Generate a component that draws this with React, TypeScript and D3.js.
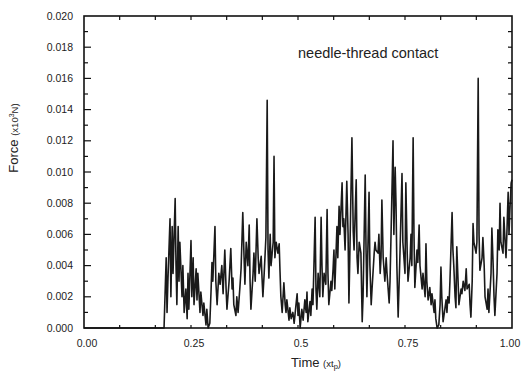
import React from "react";
import * as d3 from "d3";

const xTickValues = [0, 0.25, 0.5, 0.75, 1.0];
const xTickLabels = ["0.00", "0.25", "0.5", "0.75", "1.00"];
const yTickValues = [0, 0.002, 0.004, 0.006, 0.008, 0.01, 0.012, 0.014, 0.016, 0.018, 0.02];
const yTickLabels = ["0.000", "0.002", "0.004", "0.006", "0.008", "0.010", "0.012", "0.014", "0.016", "0.018", "0.020"];
const annotation = "needle-thread contact";

const time = [
  0, 0.187, 0.192, 0.194, 0.196, 0.201, 0.203, 0.206, 0.208, 0.213, 0.215, 0.217, 0.22, 0.222, 0.224,
  0.229, 0.231, 0.234, 0.238, 0.241, 0.243, 0.245, 0.25, 0.252, 0.255, 0.257, 0.262, 0.264, 0.266,
  0.271, 0.273, 0.278, 0.28, 0.285, 0.287, 0.29, 0.294, 0.297, 0.299, 0.301, 0.306, 0.308, 0.311,
  0.315, 0.318, 0.322, 0.325, 0.329, 0.332, 0.334, 0.339, 0.343, 0.346, 0.348, 0.35, 0.355, 0.357,
  0.36, 0.364, 0.367, 0.371, 0.374, 0.376, 0.379, 0.383, 0.386, 0.388, 0.39, 0.395, 0.397, 0.4,
  0.404, 0.407, 0.409, 0.414, 0.416, 0.418, 0.421, 0.425, 0.428, 0.43, 0.432, 0.435, 0.437, 0.442,
  0.444, 0.446, 0.449, 0.453, 0.456, 0.458, 0.46, 0.463, 0.467, 0.47, 0.472, 0.474, 0.479, 0.481,
  0.484, 0.488, 0.491, 0.495, 0.498, 0.5, 0.502, 0.505, 0.509, 0.512, 0.516, 0.519, 0.521, 0.523,
  0.528, 0.53, 0.533, 0.535, 0.54, 0.542, 0.544, 0.547, 0.551, 0.554, 0.556, 0.558, 0.561, 0.565,
  0.568, 0.57, 0.572, 0.577, 0.579, 0.582, 0.584, 0.586, 0.591, 0.593, 0.596, 0.598, 0.603, 0.605,
  0.607, 0.61, 0.614, 0.617, 0.619, 0.621, 0.626, 0.629, 0.631, 0.636, 0.638, 0.64, 0.643, 0.647,
  0.65, 0.652, 0.657, 0.659, 0.661, 0.666, 0.668, 0.671, 0.673, 0.678, 0.68, 0.682, 0.687, 0.689,
  0.692, 0.694, 0.696, 0.699, 0.703, 0.706, 0.708, 0.713, 0.715, 0.717, 0.722, 0.724, 0.727, 0.729,
  0.731, 0.734, 0.738, 0.743, 0.745, 0.75, 0.752, 0.755, 0.757, 0.762, 0.764, 0.766, 0.769, 0.771,
  0.773, 0.778, 0.78, 0.783, 0.785, 0.79, 0.792, 0.797, 0.799, 0.801, 0.804, 0.808, 0.811, 0.813,
  0.818, 0.82, 0.822, 0.825, 0.829, 0.832, 0.834, 0.836, 0.839, 0.843, 0.846, 0.848, 0.85, 0.853,
  0.855, 0.86, 0.862, 0.864, 0.867, 0.869, 0.871, 0.874, 0.876, 0.881, 0.883, 0.886, 0.89, 0.893,
  0.895, 0.9, 0.902, 0.904, 0.907, 0.909, 0.911, 0.916, 0.918, 0.921, 0.923, 0.925, 0.93, 0.932,
  0.935, 0.937, 0.942, 0.944, 0.946, 0.951, 0.953, 0.956, 0.958, 0.96, 0.965, 0.967, 0.97, 0.972,
  0.974, 0.979, 0.981, 0.984, 0.986, 0.988, 0.991, 0.993, 0.995, 0.998, 1.0,
];

const force = [
  0, 0, 4.5, 1.0, 3.0, 7.0, 2.0, 6.5, 3.5, 8.3, 4.0, 1.5, 6.5, 3.0, 5.5,
  2.0, 4.0, 1.0, 2.5, 0.6, 3.5, 1.2, 5.6, 2.0, 4.5, 1.5, 3.8, 1.8, 3.5,
  1.0, 2.3, 0.8, 1.6, 0.2, 1.2, 0.0, 0.3, 2.5, 4.2, 3.0, 6.5, 3.0, 1.5,
  3.5, 2.8, 4.0, 2.2, 5.0, 2.5, 1.2, 3.0, 5.1, 2.5, 3.2, 1.5, 0.8, 2.0,
  1.0, 2.5, 3.8, 7.4, 4.5, 2.8, 5.5, 4.0, 6.6, 3.0, 1.2, 3.5, 4.8, 3.0,
  7.0, 4.5, 3.5, 4.6, 3.2, 2.0, 3.5, 5.8, 14.6, 5.0, 3.2, 6.0, 4.0, 5.5,
  11.0, 4.5, 5.5, 4.8, 5.4, 3.6, 2.0, 1.0, 2.9, 1.5, 1.0, 1.8, 0.5, 1.3,
  0.6, 1.0, 0.3, 1.4, 2.2, 0.8, 1.6, 0.0, 1.2, 0.5, 1.8, 1.0, 2.3, 0.4,
  1.7, 0.8, 2.5, 1.5, 7.1, 2.5, 1.2, 3.5, 2.0, 7.1, 4.0, 2.0, 3.5, 2.8,
  7.6, 3.5, 1.5, 3.0, 2.4, 3.8, 5.0, 2.5, 6.5, 4.5, 7.8, 6.0, 9.3, 6.5,
  7.0, 5.0, 9.4, 6.0, 1.6, 4.5, 12.2, 6.2, 5.0, 9.5, 4.5, 3.5, 5.5, 4.8,
  0.4, 2.0, 9.8, 5.0, 2.0, 8.7, 4.0, 1.5, 2.5, 4.8, 5.5, 5.0, 4.8, 6.0,
  3.5, 4.5, 8.2, 4.5, 3.0, 4.5, 3.5, 1.6, 3.0, 5.5, 12.0, 6.0, 10.3, 8.0,
  4.0, 0.7, 4.5, 9.9, 5.5, 3.5, 9.3, 5.0, 3.0, 4.5, 6.0, 4.0, 12.2, 6.0,
  2.6, 5.0, 4.2, 6.6, 4.0, 2.5, 3.5, 2.0, 5.4, 3.0, 1.8, 2.6, 1.5, 2.2,
  1.0, 1.8, 0.6, 0.0, 0.2, 1.5, 3.9, 2.0, 0.4, 1.2, 1.8, 1.0, 2.0, 1.6,
  3.0, 7.4, 5.0, 4.0, 2.0, 1.3, 5.2, 3.0, 1.5, 2.5, 2.2, 3.0, 2.4, 3.8,
  2.5, 2.8, 1.5, 0.7, 3.0, 6.7, 5.5, 4.8, 5.5, 16.0, 6.0, 3.7, 4.5, 5.8,
  4.0, 2.0, 1.2, 2.5, 1.0, 3.5, 6.4, 4.0, 2.0, 0.8, 3.5, 6.3, 5.0, 8.0,
  5.5, 4.8, 7.1, 5.5, 4.5, 6.0, 8.7, 6.0, 7.5, 9.3, 9.5,
].map((v) => v / 1000);

const W = 522;
const H = 377;
const M = { left: 84, right: 10, top: 16, bottom: 49 };

export default function App() {
  const x = d3.scaleLinear().domain([0, 1]).range([M.left, W - M.right]);
  const y = d3.scaleLinear().domain([0, 0.02]).range([H - M.bottom, M.top]);
  const pts = time.map((t, i) => [t, force[i]] as [number, number]);
  const line = d3
    .line<[number, number]>()
    .x((d) => x(d[0]))
    .y((d) => y(d[1]));
  const xMinor = d3.range(0, 13).map((i) => i / 12);
  const yMinor = d3.range(0, 21).map((i) => i / 1000);
  const font = "Liberation Sans, Arial, Helvetica, sans-serif";
  const x0 = M.left;
  const x1 = W - M.right;
  const y0 = H - M.bottom;
  const y1 = M.top;
  return (
    <svg
      width={W}
      height={H}
      style={{ position: "absolute", left: 0, top: 0, background: "#fff" }}
      fontFamily={font}
    >
      <rect x={0} y={0} width={W} height={H} fill="#fff" />
      <path d={line(pts) || ""} fill="none" stroke="#1a1a1a" strokeWidth={1.6} strokeLinejoin="round" />
      <rect x={x0} y={y1} width={x1 - x0} height={y0 - y1} fill="none" stroke="#111" strokeWidth={1.6} />
      {xMinor.slice(1, -1).map((v, i) => (
        <g key={"xt" + i} stroke="#111" strokeWidth={1.2}>
          <line x1={x(v)} x2={x(v)} y1={y0} y2={y0 - 3} />
          <line x1={x(v)} x2={x(v)} y1={y1} y2={y1 + 4} />
        </g>
      ))}
      {yMinor.slice(1, -1).map((v, i) => {
        const major = Math.round(v * 1000) % 2 === 0;
        return (
          <g key={"yt" + i} stroke="#111" strokeWidth={1.2}>
            <line x1={x0} x2={x0 + (major ? 7 : 4)} y1={y(v)} y2={y(v)} />
            <line x1={x1} x2={x1 - 4} y1={y(v)} y2={y(v)} />
          </g>
        );
      })}
      {yTickValues.map((v, i) => (
        <text
          key={"yl" + i}
          x={73}
          y={y(v)}
          dy="0.35em"
          textAnchor="end"
          fontSize={10.5}
          fill="#222"
        >
          {yTickLabels[i]}
        </text>
      ))}
      {xTickValues.map((v, i) => (
        <text
          key={"xl" + i}
          x={i === 4 ? 510 : x(v) + 3}
          y={347}
          textAnchor="middle"
          fontSize={10.5}
          fill="#222"
        >
          {xTickLabels[i]}
        </text>
      ))}
      <text x={316} y={367} textAnchor="middle" fontSize={13} fill="#222">
        Time <tspan fontSize={9.5}>(xt</tspan>
        <tspan fontSize={7.5} dy={2}>p</tspan>
        <tspan fontSize={9.5} dy={-2}>)</tspan>
      </text>
      <text
        transform={`translate(18,138) rotate(-90)`}
        textAnchor="middle"
        fontSize={13}
        fill="#222"
      >
        Force <tspan fontSize={9.5}>(x10</tspan>
        <tspan fontSize={7} dy={-4}>3</tspan>
        <tspan fontSize={9.5} dy={4}>N)</tspan>
      </text>
      <text x={298} y={58} fontSize={14.5} fill="#222">
        {annotation}
      </text>
    </svg>
  );
}
